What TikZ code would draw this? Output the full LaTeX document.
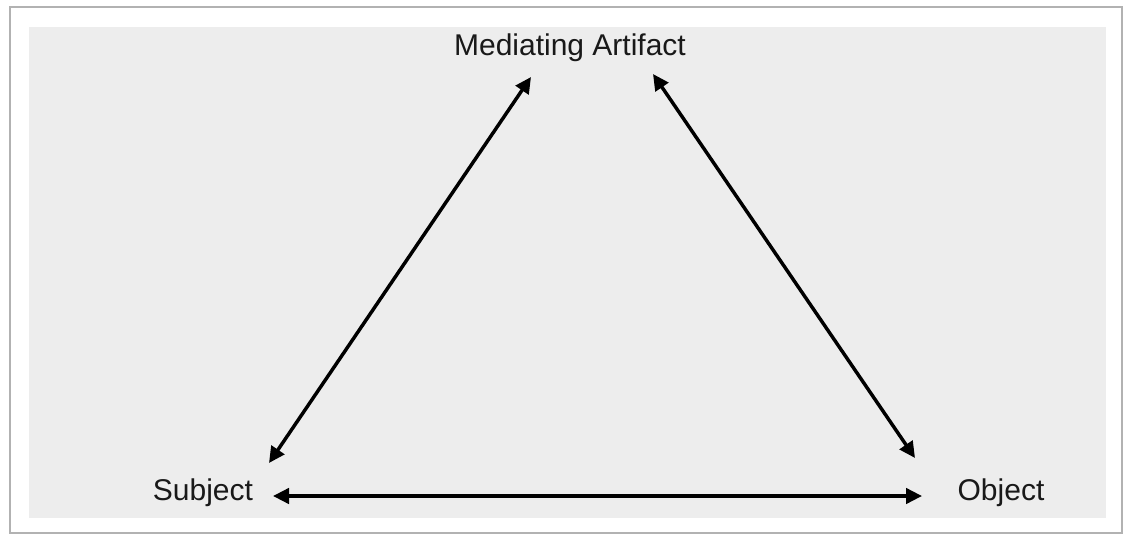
\documentclass[tikz,border=0pt]{standalone}
\usepackage{fontspec}
\setmainfont{Liberation Sans}
\usepackage{tikz}
\usetikzlibrary{arrows.meta}
\colorlet{framecol}{black!30!white}
\colorlet{panelcol}{black!7!white}
\colorlet{arrowcol}{black}
\tikzset{every node/.style={font=\fontsize{22.5}{27}\selectfont, text=black!90}}

\begin{document}
\begin{tikzpicture}[x=0.75pt, y=-0.75pt,
    link/.style={{Triangle[length=12pt, width=11.5pt]}-{Triangle[length=12pt, width=11.5pt]},
      line width=2.6pt, arrowcol}]

  % Page size.
  \useasboundingbox (0,0) rectangle (1125,535);

  % Outer frame and grey panel.
  \draw[line width=1.2pt, framecol, fill=white] (10,7) rectangle (1122,533);
  \fill[panelcol] (29,27) rectangle (1106,518);

  % Labels.
  \node (art)  at (570,48)  {Mediating Artifact};
  \node (subj) at (203,493) {Subject};
  \node (obj)  at (1001,493) {Object};

  % Arrow end points.
  \coordinate (artL) at (531,77);
  \coordinate (artR) at (653,74);
  \coordinate (subjT) at (269,463);
  \coordinate (subjR) at (273,496);
  \coordinate (objT) at (915,458);
  \coordinate (objL) at (922,496);

  % Links between the three corners.
  \draw[link] (subjT) -- (artL);
  \draw[link] (artR) -- (objT);
  \draw[link] (subjR) -- (objL);

\end{tikzpicture}
\end{document}
